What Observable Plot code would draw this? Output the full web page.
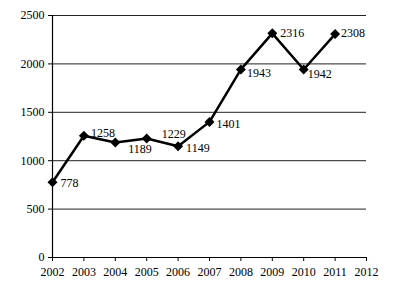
<!DOCTYPE html>
<html>
<head>
<meta charset="utf-8">
<script src="https://cdn.jsdelivr.net/npm/d3@7"></script>
<script src="https://cdn.jsdelivr.net/npm/@observablehq/plot@0.6"></script>
<style>
html,body{margin:0;padding:0;background:#fff;}
</style>
</head>
<body>
<div id="chart"></div>
<script>
const years = [2002, 2003, 2004, 2005, 2006, 2007, 2008, 2009, 2010, 2011];
const values = [778, 1258, 1189, 1229, 1149, 1401, 1943, 2316, 1942, 2308];
const xTicks = [2002, 2003, 2004, 2005, 2006, 2007, 2008, 2009, 2010, 2011, 2012];
const yTicks = [0, 500, 1000, 1500, 2000, 2500];

const data = years.map((y, i) => ({year: y, value: values[i]}));

// label placement (offsets in px relative to point)
const labelOffsets = {
  2002: [8, 1], 2003: [7, -3], 2004: [13, 7], 2005: [15, -4], 2006: [8, 2],
  2007: [7, 2], 2008: [6, 4], 2009: [8, 0], 2010: [4, 5], 2011: [6, -1]
};

const labelMarks = data.map(d => Plot.text([d], {
  x: "year", y: "value", text: d => String(d.value),
  textAnchor: "start", dx: labelOffsets[d.year][0], dy: labelOffsets[d.year][1],
  fill: "black", fontSize: 12
}));

const chart = Plot.plot({
  width: 404,
  height: 287,
  marginLeft: 52,
  marginRight: 38,
  marginTop: 15,
  marginBottom: 30,
  style: {fontFamily: "'Liberation Serif', 'Times New Roman', serif", fontSize: "12px", color: "black", background: "white"},
  x: {domain: [2002, 2012]},
  y: {domain: [0, 2500]},
  marks: [
    Plot.gridY(yTicks, {stroke: "#222", strokeOpacity: 1, strokeWidth: 1}),
    Plot.ruleX([2002], {stroke: "black", strokeWidth: 1.2}),
    Plot.ruleY([0], {stroke: "black", strokeWidth: 1.2}),
    Plot.axisX({ticks: xTicks, tickSize: 4, tickPadding: 6, tickFormat: d => String(d), label: null, stroke: "black"}),
    Plot.axisY({ticks: yTicks, tickSize: 4, tickPadding: 4, tickFormat: d => String(d), label: null, stroke: "black"}),
    Plot.line(data, {x: "year", y: "value", stroke: "black", strokeWidth: 2.5}),
    Plot.dot(data, {x: "year", y: "value", symbol: "diamond2", r: 4.5, fill: "black", stroke: "none"}),
    ...labelMarks
  ]
});
document.getElementById("chart").appendChild(chart);
</script>
</body>
</html>
